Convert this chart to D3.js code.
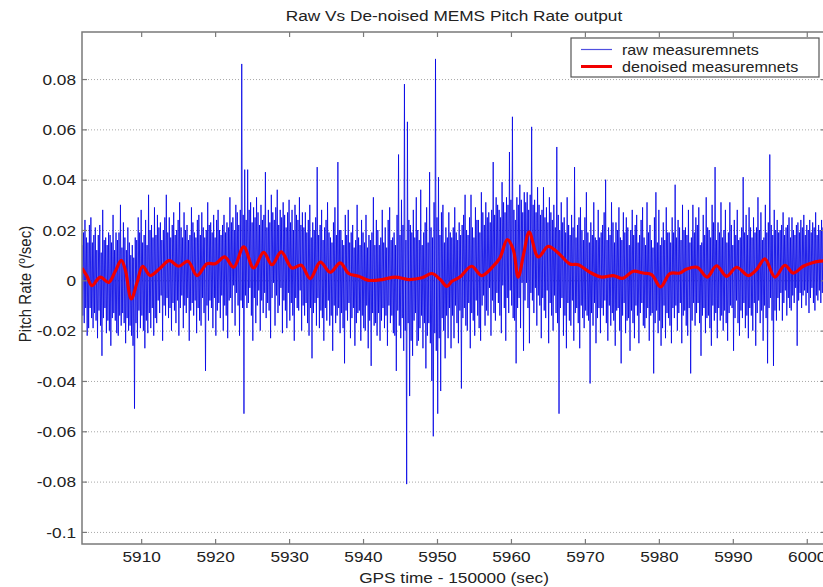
<!DOCTYPE html>
<html>
<head>
<meta charset="utf-8">
<script src="https://cdn.jsdelivr.net/npm/d3@7"></script>
<style>
  html, body { margin: 0; padding: 0; background: #fff; }
  svg { display: block; font-family: "Liberation Sans", Arial, Helvetica, sans-serif; }
</style>
</head>
<body>
<svg id="chart" width="823" height="587"></svg>
<script>
// Raw MEMS gyro pitch-rate samples, in 1e-3 deg/s. The raw signal swings
// up and down every sample: rawUpper[k] is the sample at rawT0 + 0.2k s,
// rawLower[k] the following one at rawT0 + 0.2k + 0.1 s.
const rawT0 = 5902.0;
const rawDt = 0.1;
const rawUpper = [
  14,19,24,17,15,22,25,15,18,21,
  12,18,22,11,28,16,17,14,19,18,
  15,26,12,19,16,19,30,13,23,17,
  12,21,15,10,14,9,17,16,25,19,
  28,15,18,24,14,34,20,22,17,29,
  18,26,21,23,16,20,25,34,19,25,
  17,22,27,18,20,24,31,21,17,27,
  20,22,16,18,29,23,19,17,24,26,
  18,27,21,17,20,31,22,23,19,26,
  17,24,28,20,18,22,26,19,23,21,
  33,23,25,20,30,27,22,28,86,26,
  44,24,44,28,31,23,29,25,33,27,
  22,30,24,26,43,21,28,23,34,27,
  24,29,36,22,28,25,31,26,21,27,
  32,23,28,20,30,26,24,33,22,27,
  21,27,19,24,30,17,23,20,25,45,
  18,22,28,16,21,24,31,19,17,15,
  23,29,18,47,20,20,16,14,26,18,
  28,15,19,22,13,16,30,17,14,24,
  19,15,26,13,18,16,19,33,14,24,
  20,14,17,28,15,21,13,24,29,16,
  17,19,14,26,50,18,32,22,78,16,
  63,24,22,19,28,17,33,20,16,36,
  14,19,23,29,15,43,21,17,31,88,
  25,41,18,27,30,15,21,17,27,19,
  17,21,29,19,16,23,18,22,26,34,
  20,18,25,34,21,17,29,24,24,19,
  35,27,22,31,25,27,23,28,47,26,
  33,30,28,25,39,31,27,33,30,51,
  32,65,28,24,33,30,38,32,27,35,
  31,35,28,34,61,30,32,27,37,30,
  26,28,37,25,29,23,33,27,24,30,
  21,53,26,20,31,23,25,19,33,22,
  18,26,21,45,17,22,25,29,20,16,
  25,35,19,15,23,18,31,17,16,28,
  17,19,22,27,40,16,21,18,31,23,
  15,23,20,29,17,16,27,19,25,21,
  14,20,28,18,22,26,15,18,24,29,
  17,14,31,19,22,16,13,25,35,15,
  28,14,17,23,16,29,19,19,15,25,
  19,38,17,24,21,16,30,20,21,18,
  28,15,17,30,19,25,22,29,14,15,
  26,18,33,21,20,17,30,23,45,16,
  23,19,31,17,20,28,15,19,31,22,
  14,24,18,28,16,17,21,41,19,26,
  18,29,21,17,25,19,21,33,20,27,
  16,17,30,19,23,50,22,18,28,20,
  24,19,20,22,27,18,21,22,25,17,
  25,20,18,22,23,19,24,21,26,18,
  22,20,24,19,23,21,27,18,22,20,
  24,21,19,23
];
const rawLower = [
  -14,-17,-11,-22,-19,-11,-15,-19,-13,-16,
  -23,-12,-18,-30,-15,-11,-21,-16,-20,-26,
  -15,-13,-16,-21,-22,-14,-18,-13,-17,-25,
  -15,-20,-18,-22,-26,-51,-17,-23,-12,-19,
  -14,-20,-27,-16,-21,-13,-19,-11,-22,-15,
  -17,-8,-13,-6,-24,-10,-14,-7,-15,-11,
  -20,-9,-12,-17,-8,-22,-11,-6,-19,-10,
  -13,-7,-24,-12,-9,-14,-8,-21,-11,-16,
  -18,-7,-13,-36,-10,-16,-8,-11,-19,-7,
  -22,-12,-9,-15,-6,-20,-10,-14,-23,-8,
  -7,-13,-2,-18,-5,-10,-22,-8,-11,-53,
  -6,-11,-9,-3,-14,-24,-7,-17,-10,-4,
  -20,-8,-13,-5,-15,-9,-12,-23,-7,-1,
  -18,-6,-13,-10,-3,-21,-8,-12,-19,-5,
  -16,-9,-14,-24,-7,-11,-12,-4,-20,-10,
  -14,-9,-17,-22,-11,-31,-13,-9,-18,-7,
  -19,-12,-15,-24,-11,-16,-8,-18,-14,-28,
  -10,-17,-14,-11,-21,-13,-19,-33,-12,-16,
  -9,-23,-15,-11,-26,-17,-13,-12,-24,-14,
  -19,-20,-10,-27,-16,-34,-13,-18,-17,-22,
  -13,-24,-16,-11,-19,-14,-26,-10,-17,-14,
  -21,-22,-36,-12,-18,-23,-15,-28,-20,-81,
  -17,-46,-24,-30,-16,-13,-26,-24,-19,-14,
  -27,-17,-35,-22,-17,-25,-40,-62,-21,-28,
  -53,-23,-44,-15,-20,-31,-14,-23,-11,-27,
  -14,-23,-10,-17,-25,-12,-43,-15,-11,-18,
  -20,-9,-27,-13,-16,-22,-8,-14,-19,-24,
  -10,-6,-18,-12,-14,-3,-22,-8,-13,-16,
  -5,-9,-14,-21,-2,-11,-24,-7,-13,-4,
  -10,-15,-16,-33,-11,-7,-19,-1,-28,-8,
  -1,-11,-25,-5,-8,-13,-3,-18,-6,-10,
  -23,-7,-12,-15,-4,-25,-9,-14,-20,-6,
  -13,-17,-53,-11,-7,-22,-14,-27,-9,-16,
  -18,-8,-24,-13,-11,-17,-27,-10,-15,-19,
  -12,-14,-16,-41,-13,-18,-9,-25,-15,-11,
  -21,-11,-14,-8,-17,-24,-10,-18,-13,-16,
  -26,-12,-11,-20,-33,-14,-9,-21,-16,-15,
  -28,-12,-17,-23,-10,-14,-25,-13,-9,-18,
  -19,-15,-11,-24,-14,-13,-37,-17,-12,-21,
  -16,-26,-19,-10,-23,-13,-15,-18,-25,-11,
  -15,-10,-20,-13,-9,-25,-14,-12,-18,-22,
  -11,-37,-16,-9,-18,-13,-9,-17,-30,-14,
  -11,-21,-15,-14,-19,-26,-10,-16,-13,-23,
  -11,-16,-14,-20,-12,-17,-24,-13,-10,-11,
  -28,-15,-8,-17,-22,-12,-15,-9,-19,-14,
  -23,-11,-14,-20,-9,-26,-13,-8,-17,-12,
  -24,-10,-15,-33,-11,-7,-16,-34,-12,-16,
  -7,-12,-5,-16,-9,-4,-14,-7,-11,-12,
  -6,-9,-3,-26,-8,-5,-11,-6,-4,-10,
  -5,-13,-7,-3,-9,-12,-6,-8,-4,-9,
  -5,-7,-8
];

// De-noised pitch rate: sample times (s, GPS - 150000) and values (deg/s)
const denoisedTime = [
  5902.00,5902.68,5903.35,5904.47,5905.61,5906.50,5907.31,5907.85,5908.66,5909.43,
  5910.20,5911.23,5912.59,5913.80,5915.07,5916.33,5917.55,5918.90,5920.02,5921.29,
  5922.51,5923.86,5925.21,5926.56,5927.69,5928.94,5930.39,5931.65,5932.86,5934.22,
  5935.57,5936.92,5938.06,5939.41,5940.76,5942.56,5944.36,5946.17,5947.97,5949.32,
  5950.44,5951.34,5952.02,5953.10,5954.68,5956.04,5957.60,5958.51,5959.50,5960.31,
  5960.98,5961.75,5962.47,5963.69,5965.04,5966.39,5967.97,5969.10,5970.68,5972.26,
  5973.83,5975.10,5976.53,5977.88,5979.02,5980.23,5981.49,5982.84,5983.75,5985.18,
  5986.53,5987.80,5989.16,5990.51,5992.08,5993.21,5994.34,5995.69,5997.04,5998.16,
  5999.51,6000.65,6001.77,6002.58
];
const denoisedValue = [
  0.0049,0.0016,-0.0021,0.0013,-0.0008,0.0036,0.0079,0.0043,-0.0074,-0.0010,
  0.0056,0.0019,0.0049,0.0078,0.0056,0.0076,0.0019,0.0066,0.0066,0.0093,
  0.0052,0.0133,0.0049,0.0111,0.0062,0.0113,0.0049,0.0060,0.0007,0.0072,
  0.0032,0.0069,0.0027,0.0016,0.0000,0.0003,0.0013,0.0003,0.0010,0.0027,
  0.0003,-0.0024,-0.0004,0.0013,0.0056,0.0019,0.0056,0.0089,0.0162,0.0122,
  0.0013,0.0109,0.0192,0.0093,0.0135,0.0109,0.0065,0.0062,0.0032,0.0013,
  0.0019,0.0008,0.0036,0.0029,0.0023,-0.0026,0.0027,0.0029,0.0045,0.0052,
  0.0013,0.0058,0.0016,0.0052,0.0019,0.0043,0.0085,0.0013,0.0060,0.0029,
  0.0056,0.0069,0.0076,0.0078
];

const xTicks = [5910, 5920, 5930, 5940, 5950, 5960, 5970, 5980, 5990, 6000];
const yTicks = [-0.1, -0.08, -0.06, -0.04, -0.02, 0, 0.02, 0.04, 0.06, 0.08];
const yTickLabels = ["-0.1", "-0.08", "-0.06", "-0.04", "-0.02", "0", "0.02", "0.04", "0.06", "0.08"];
const seriesNames = ["raw measuremnets", "denoised measuremnets"];
const titleText = "Raw Vs De-noised MEMS Pitch Rate output";
const xLabelText = "GPS time - 150000  (sec)";

// Layout
const plot = { left: 82, right: 826, top: 32, bottom: 544 };
const textStretch = 1.15;     // horizontal glyph stretch of all labels
const frameColor = "#7a7a7a";
const textColor = "#222";

// Interleave upper and lower swings into one time-ordered series
const rawSeries = [];
rawUpper.forEach((v, k) => {
  rawSeries.push({ t: rawT0 + 2 * k * rawDt, v: v / 1000 });
  if (k < rawLower.length) rawSeries.push({ t: rawT0 + (2 * k + 1) * rawDt, v: rawLower[k] / 1000 });
});
const denoisedSeries = denoisedTime.map((t, i) => ({ t, v: denoisedValue[i] }));

const svg = d3.select("#chart");

const x = d3.scaleLinear().domain([5902, 6002.6]).range([plot.left, plot.right]);
const y = d3.scaleLinear().domain([-0.1048, 0.0987]).range([plot.bottom, plot.top]);

svg.append("defs").append("clipPath").attr("id", "plotClip")
  .append("rect")
  .attr("x", plot.left).attr("y", plot.top)
  .attr("width", plot.right - plot.left).attr("height", plot.bottom - plot.top);

// Horizontal dotted grid
svg.append("g")
  .attr("transform", `translate(${plot.left},0)`)
  .call(d3.axisLeft(y).tickValues(yTicks).tickSize(-(plot.right - plot.left)).tickFormat(""))
  .call(g => g.select(".domain").remove())
  .call(g => g.selectAll("line").attr("stroke", "#a8a8a8").attr("stroke-width", 1).attr("stroke-dasharray", "1,2"));

// Data
const dataLayer = svg.append("g").attr("clip-path", "url(#plotClip)");

dataLayer.append("path")
  .datum(rawSeries)
  .attr("fill", "none")
  .attr("stroke", "#0000e6")
  .attr("stroke-width", 0.8)
  .attr("stroke-linejoin", "miter")
  .attr("d", d3.line().x(d => x(d.t)).y(d => y(d.v)));

dataLayer.append("path")
  .datum(denoisedSeries)
  .attr("fill", "none")
  .attr("stroke", "#f20000")
  .attr("stroke-width", 3.2)
  .attr("stroke-linejoin", "round")
  .attr("d", d3.line().curve(d3.curveCatmullRom.alpha(0.5)).x(d => x(d.t)).y(d => y(d.v)));

// Axes with inward ticks
function styleAxis(g) {
  g.select(".domain").remove();
  g.selectAll(".tick line").attr("stroke", frameColor).attr("stroke-width", 1.2);
  g.selectAll(".tick text").attr("fill", textColor).attr("font-size", 15);
}

svg.append("g")
  .attr("transform", `translate(0,${plot.bottom})`)
  .call(d3.axisBottom(x).tickValues(xTicks).tickSize(-5).tickFormat(d3.format("d")))
  .call(styleAxis)
  .call(g => g.selectAll(".tick text")
    .attr("y", 7.8).attr("dy", "0.71em")
    .attr("transform", `scale(${textStretch},1)`));

svg.append("g")
  .attr("transform", `translate(0,${plot.top})`)
  .call(d3.axisTop(x).tickValues(xTicks).tickSize(-5).tickFormat(""))
  .call(styleAxis);

svg.append("g")
  .attr("transform", `translate(${plot.left},0)`)
  .call(d3.axisLeft(y).tickValues(yTicks).tickSize(-5).tickFormat((d, i) => yTickLabels[i]))
  .call(styleAxis)
  .call(g => g.selectAll(".tick text")
    .attr("x", -6 / textStretch).attr("dy", "0.34em")
    .attr("transform", `scale(${textStretch},1)`));

svg.append("g")
  .attr("transform", `translate(${plot.right},0)`)
  .call(d3.axisRight(y).tickValues(yTicks).tickSize(-5).tickFormat(""))
  .call(styleAxis);

// Box
svg.append("rect")
  .attr("x", plot.left).attr("y", plot.top)
  .attr("width", plot.right - plot.left).attr("height", plot.bottom - plot.top)
  .attr("fill", "none").attr("stroke", frameColor).attr("stroke-width", 1.5);

// Title and axis labels
svg.append("text")
  .attr("transform", `translate(${(plot.left + plot.right) / 2},21) scale(${textStretch},1)`)
  .attr("text-anchor", "middle").attr("font-size", 15).attr("fill", textColor)
  .text(titleText);

svg.append("text")
  .attr("transform", `translate(${(plot.left + plot.right) / 2},583) scale(${textStretch},1)`)
  .attr("text-anchor", "middle").attr("font-size", 15).attr("fill", textColor)
  .text(xLabelText);

const yLabel = svg.append("text")
  .attr("transform", `translate(31,284) rotate(-90) scale(1,${textStretch})`)
  .attr("text-anchor", "middle").attr("font-size", 15).attr("fill", textColor);
yLabel.append("tspan").text("Pitch Rate (");
yLabel.append("tspan").attr("baseline-shift", "super").attr("font-size", 10).text("o");
yLabel.append("tspan").text("/sec)");

// Legend
const legend = svg.append("g").attr("transform", "translate(571,38)");
legend.append("rect")
  .attr("width", 248).attr("height", 39)
  .attr("fill", "#fff").attr("stroke", "#555").attr("stroke-width", 1.2);

const legendRows = [
  { name: seriesNames[0], color: "#5050e0", width: 1.2, cy: 11.5 },
  { name: seriesNames[1], color: "#f20000", width: 3, cy: 28.5 }
];
legendRows.forEach(r => {
  legend.append("line")
    .attr("x1", 10).attr("x2", 41).attr("y1", r.cy).attr("y2", r.cy)
    .attr("stroke", r.color).attr("stroke-width", r.width);
  legend.append("text")
    .attr("transform", `translate(51,${r.cy + 5}) scale(${textStretch},1)`)
    .attr("font-size", 14).attr("fill", textColor)
    .text(r.name);
});
</script>
</body>
</html>
